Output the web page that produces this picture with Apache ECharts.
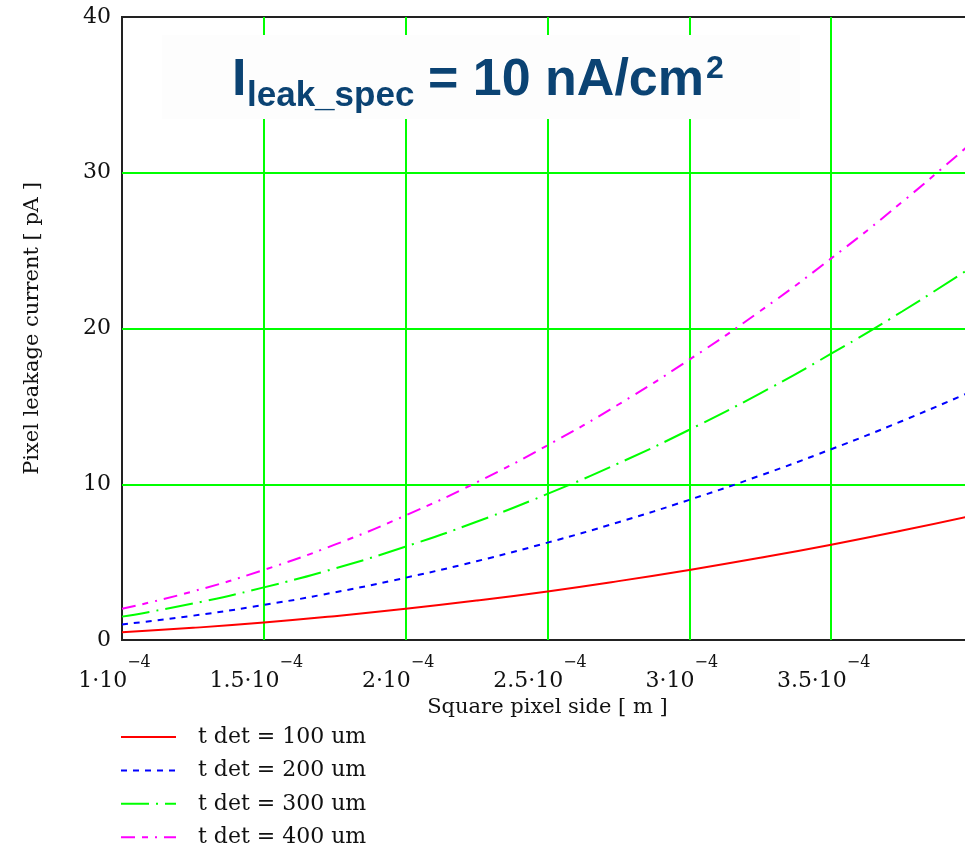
<!DOCTYPE html>
<html>
<head>
<meta charset="utf-8">
<script src="https://cdn.jsdelivr.net/npm/echarts@6/dist/echarts.min.js"></script>
<style>
html,body{margin:0;padding:0;background:#fff;}
#chart{width:965px;height:849px;}
</style>
</head>
<body>
<div id="chart"></div>
<script>
// Square pixel side [m]
const sideValues = [1.0e-4, 1.25e-4, 1.5e-4, 1.75e-4, 2.0e-4, 2.25e-4, 2.5e-4, 2.75e-4, 3.0e-4, 3.25e-4, 3.5e-4, 3.75e-4, 4.0e-4];
// Pixel leakage current [pA]
const tdet100 = [0.5, 0.78, 1.12, 1.53, 2.0, 2.53, 3.12, 3.78, 4.5, 5.28, 6.12, 7.03, 8.0];
const tdet200 = [1.0, 1.56, 2.25, 3.06, 4.0, 5.06, 6.25, 7.56, 9.0, 10.56, 12.25, 14.06, 16.0];
const tdet300 = [1.5, 2.34, 3.38, 4.59, 6.0, 7.59, 9.38, 11.34, 13.5, 15.84, 18.38, 21.09, 24.0];
const tdet400 = [2.0, 3.12, 4.5, 6.12, 8.0, 10.12, 12.5, 15.12, 18.0, 21.12, 24.5, 28.12, 32.0];
const seriesNames = ['t det = 100 um', 't det = 200 um', 't det = 300 um', 't det = 400 um'];
const yTicks = [0, 10, 20, 30, 40];

const serif = '"DejaVu Serif", "Liberation Serif", serif';
const pairs = arr => sideValues.map((x, i) => [x, arr[i]]);

const chart = echarts.init(document.getElementById('chart'), null, {renderer: 'canvas'});
const lineCommon = {type: 'line', smooth: true, symbol: 'none', z: 3};
const titleFont = '"Liberation Sans", Arial, sans-serif';
const titleColor = '#0b4373';

chart.setOption({
  animation: false,
  backgroundColor: '#ffffff',
  grid: {left: 122, top: 17, width: 851, bottom: 209, outerBoundsMode: 'none', containLabel: false,
         show: true, borderColor: '#222', borderWidth: 2, backgroundColor: 'transparent'},
  xAxis: {
    type: 'value', min: 1e-4, max: 4e-4, interval: 0.5e-4,
    name: 'Square pixel side [ m ]', nameLocation: 'middle', nameGap: 53,
    nameTextStyle: {fontFamily: serif, fontSize: 21, color: '#111'},
    axisLine: {show: false}, axisTick: {show: false},
    splitLine: {show: true, showMinLine: false, showMaxLine: false, lineStyle: {color: '#00ff00', width: 2}},
    axisLabel: {
      showMaxLabel: false, margin: 15,
      formatter: function (v) {
        const m = Math.round(v * 1e5) / 10;
        return '{b|' + m + '·10}{s|−4}';
      },
      rich: {
        b: {fontFamily: serif, fontSize: 22, color: '#111', lineHeight: 37, verticalAlign: 'bottom'},
        s: {fontFamily: serif, fontSize: 16, color: '#111', lineHeight: 16, verticalAlign: 'top', padding: [0, 15, 0, 0]}
      }
    }
  },
  yAxis: {
    type: 'value', min: 0, max: 40, interval: 10,
    name: 'Pixel leakage current [ pA ]', nameLocation: 'middle', nameGap: 79,
    nameTextStyle: {fontFamily: serif, fontSize: 21, color: '#111'},
    axisLine: {show: false}, axisTick: {show: false},
    splitLine: {show: true, showMinLine: false, showMaxLine: false, lineStyle: {color: '#00ff00', width: 2}},
    axisLabel: {fontFamily: serif, fontSize: 22, color: '#111', margin: 11,
      formatter: v => (yTicks.indexOf(v) >= 0 ? String(v) : '')}
  },
  legend: {
    orient: 'vertical', left: 120, top: 726, height: 123, padding: 0,
    itemWidth: 55, itemHeight: 14, itemGap: 11.4,
    itemStyle: {opacity: 0},
    textStyle: {fontFamily: serif, fontSize: 22, color: '#111', padding: [0, 0, 0, 17]},
    data: seriesNames
  },
  graphic: [
    {type: 'rect', z: 10, shape: {x: 162, y: 35, width: 638, height: 84}, style: {fill: '#fdfdfd'}},
    {type: 'text', z: 11, style: {text: 'I', x: 232, y: 81, font: 'bold 52px ' + titleFont, fill: titleColor, textVerticalAlign: 'middle'}},
    {type: 'text', z: 11, style: {text: 'leak_spec', x: 247, y: 96, font: 'bold 35px ' + titleFont, fill: titleColor, textVerticalAlign: 'middle'}},
    {type: 'text', z: 11, style: {text: '= 10 nA/cm', x: 428, y: 81, font: 'bold 52px ' + titleFont, fill: titleColor, textVerticalAlign: 'middle'}},
    {type: 'text', z: 11, style: {text: '2', x: 706, y: 69, font: 'bold 32px ' + titleFont, fill: titleColor, textVerticalAlign: 'middle'}}
  ],
  series: [
    Object.assign({}, lineCommon, {name: seriesNames[0], data: pairs(tdet100), color: '#ff0000', lineStyle: {color: '#ff0000', width: 2, type: 'solid'}}),
    Object.assign({}, lineCommon, {name: seriesNames[1], data: pairs(tdet200), color: '#0000ff', lineStyle: {color: '#0000ff', width: 2, type: [6, 6]}}),
    Object.assign({}, lineCommon, {name: seriesNames[2], data: pairs(tdet300), color: '#00ff00', lineStyle: {color: '#00ff00', width: 2, type: [28, 7, 2, 7]}}),
    Object.assign({}, lineCommon, {name: seriesNames[3], data: pairs(tdet400), color: '#ff00ff', lineStyle: {color: '#ff00ff', width: 2, type: [14, 7, 6, 7, 2, 7]}})
  ]
});
</script>
</body>
</html>
